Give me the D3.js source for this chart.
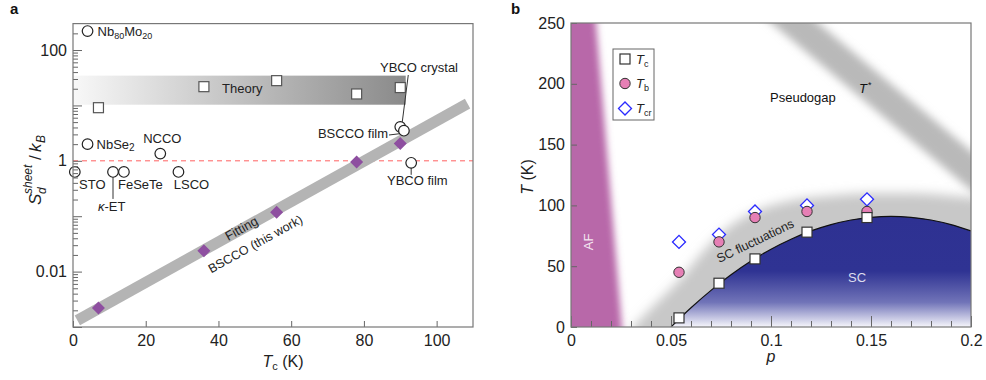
<!DOCTYPE html>
<html><head><meta charset="utf-8">
<script src="https://cdn.jsdelivr.net/npm/d3@7"></script>
<style>
body{margin:0;background:#fff}
svg{display:block;font-family:"Liberation Sans",Arial,sans-serif}
</style>
</head><body>
<svg id="c" width="986" height="380"></svg>
<script>
// ---------- Panel a data ----------
const matNames = ["Nb80Mo20","NbSe2","NCCO","STO","κ-ET","FeSeTe","LSCO","YBCO crystal","BSCCO film","YBCO film"];
const matTc    = [4, 4, 24, 0.5, 11, 14, 29, 90, 91, 93];
const matS     = [220, 2.0, 1.35, 0.63, 0.63, 0.63, 0.63, 4.1, 3.5, 0.92];
const theoryTc = [7, 36, 56, 78, 90];
const theoryS  = [9.1, 21.8, 28, 16.1, 21];
const theoryBandTc = [0, 91.5];
const theoryBandS  = [10.3, 34.5];
const bsccoTc  = [7, 36, 56, 78, 90];
const bsccoS   = [0.0022, 0.0237, 0.118, 0.95, 2.06];
const fitTc    = [1.2, 108.5];
const fitS     = [0.00132, 10.8];
const xTicksA  = [0, 20, 40, 60, 80, 100];
const yLabelValsA = [100, 1, 0.01];
const yLabelsA    = ["100", "1", "0.01"];

// ---------- Panel b data ----------
const dopP   = [0.054, 0.074, 0.092, 0.118, 0.148];
const TcB    = [7.5, 36, 56, 78, 90];
const TbB    = [45, 70, 90, 95, 95];
const TcrB   = [70, 76, 95, 100, 105];
const domeP  = [0.05,0.06,0.07,0.08,0.09,0.10,0.11,0.12,0.13,0.14,0.15,0.16,0.17,0.18,0.19,0.20];
const domeT  = [0,15.8,30.1,42.9,54.2,64.0,72.2,79.0,84.2,88.0,90.2,91,90.2,88.0,84.2,79.0];
const flucP  = [0.031,0.038,0.046,0.055,0.065,0.075,0.085,0.095,0.11,0.13,0.15,0.17,0.19,0.21];
const flucT  = [0,12,25,40,60,77,89,97,104,108,110,110,108,105];
const afP    = [-0.02, 0.012, 0.026, -0.02];
const afT    = [260, 260, -10, -10];
const tStarP = [0.10, 0.215];
const tStarT = [266.5, 108];
const xTicksB = [0, 0.05, 0.1, 0.15, 0.2];
const xLabelsB = ["0", "0.05", "0.1", "0.15", "0.2"];
const yTicksB = [0, 50, 100, 150, 200, 250];

const svg = d3.select("#c");
const defs = svg.append("defs");
const FS = 16;

function styleAxis(g){
  g.select(".domain").remove();
  g.selectAll(".tick line").attr("stroke","#666").attr("stroke-width",1);
  g.selectAll(".tick text").attr("font-size",FS).attr("fill","#222")
   .attr("font-family","'Liberation Sans',Arial,sans-serif");
}

// ================= PANEL A =================
const xA = d3.scaleLinear().domain([0,110]).range([73,473]);
const yA = d3.scaleLog().domain([0.001,300]).range([327,23.6]);
const gA = svg.append("g");

const tg = defs.append("linearGradient").attr("id","tg").attr("gradientUnits","userSpaceOnUse")
  .attr("x1",xA(theoryBandTc[0])).attr("x2",xA(theoryBandTc[1])).attr("y1",0).attr("y2",0);
tg.append("stop").attr("offset",0).attr("stop-color","#f8f8f8");
tg.append("stop").attr("offset",1).attr("stop-color","#8a8a8a");
gA.append("rect").attr("x",xA(theoryBandTc[0])).attr("width",xA(theoryBandTc[1])-xA(theoryBandTc[0]))
  .attr("y",yA(theoryBandS[1])).attr("height",yA(theoryBandS[0])-yA(theoryBandS[1])).attr("fill","url(#tg)");

// dashed y=1 line
gA.append("line").attr("x1",xA(0)).attr("x2",xA(110)).attr("y1",yA(1)).attr("y2",yA(1))
  .attr("stroke","#ff6060").attr("stroke-width",1).attr("stroke-dasharray","5,4");

// fit line
const fitPts = fitTc.map((t,i)=>[xA(t),yA(fitS[i])]);
gA.append("path").attr("d",d3.line()(fitPts)).attr("stroke","#b4b4b4").attr("stroke-width",11).attr("fill","none");
const ang = Math.atan2(fitPts[1][1]-fitPts[0][1], fitPts[1][0]-fitPts[0][0])*180/Math.PI;
function fitAt(t){
  const f=(t-fitTc[0])/(fitTc[1]-fitTc[0]);
  return Math.pow(10, Math.log10(fitS[0])+f*(Math.log10(fitS[1])-Math.log10(fitS[0])));
}
gA.append("text").attr("transform",`translate(${xA(46.4)},${yA(fitAt(46.4))}) rotate(${ang})`)
  .attr("text-anchor","middle").attr("dy","0.3em").attr("font-size",13).attr("fill","#222").text("Fitting");
gA.append("text").attr("transform",`translate(${xA(47.5)},${yA(fitAt(47.5))}) rotate(${ang})`)
  .attr("text-anchor","middle").attr("dy",24).attr("font-size",12.5).attr("fill","#222").text("BSCCO (this work)");

// theory squares
gA.selectAll("rect.th").data(theoryTc).join("rect").attr("class","th")
  .attr("x",(d)=>xA(d)-5).attr("y",(d,i)=>yA(theoryS[i])-5).attr("width",10).attr("height",10)
  .attr("fill","#fff").attr("stroke","#555").attr("stroke-width",1.2);
gA.append("text").attr("x",222).attr("y",yA(20)+4).attr("font-size",13).attr("fill","#222").text("Theory");

// leader lines
const mx = i=>xA(matTc[i]), my = i=>yA(matS[i]);
const lead = (x1,y1,x2,y2)=>gA.append("line").attr("x1",x1).attr("y1",y1).attr("x2",x2).attr("y2",y2).attr("stroke","#333").attr("stroke-width",1);
lead(mx(4),my(4)+5,mx(4),my(4)+27);
lead(mx(7)+8,75,mx(7)+2,my(7)-5);
lead(389,135,mx(8)-4,my(8)+3);
lead(mx(9),my(9)+5,mx(9),my(9)+12);

// BSCCO diamonds
gA.selectAll("rect.bs").data(bsccoTc).join("rect").attr("class","bs")
  .attr("x",-4.6).attr("y",-4.6).attr("width",9.2).attr("height",9.2)
  .attr("transform",(d,i)=>`translate(${xA(d)},${yA(bsccoS[i])}) rotate(45)`)
  .attr("fill","#8e4fa0");

// material circles
gA.selectAll("circle.m").data(matTc).join("circle").attr("class","m")
  .attr("cx",d=>xA(d)).attr("cy",(d,i)=>yA(matS[i])).attr("r",5.3)
  .attr("fill","#fff").attr("stroke","#222").attr("stroke-width",1.2);

// material labels
function lab(x,y,anchor){return gA.append("text").attr("x",x).attr("y",y).attr("font-size",13).attr("fill","#222").attr("text-anchor",anchor||"start");}
let t = lab(mx(0)+10,my(0)+5); t.append("tspan").text("Nb"); t.append("tspan").attr("font-size",9).attr("dy",3).text("80"); t.append("tspan").attr("dy",-3).text("Mo"); t.append("tspan").attr("font-size",9).attr("dy",3).text("20");
t = lab(mx(1)+9,my(1)+5); t.append("tspan").text("NbSe"); t.append("tspan").attr("font-size",10).attr("dy",2).text("2");
lab(mx(2)+2,143,"middle").text("NCCO");
lab(79,189).text("STO");
t = lab(mx(4)-15,211); t.append("tspan").attr("font-style","italic").text("κ"); t.append("tspan").text("-ET");
lab(118,189).text("FeSeTe");
lab(mx(6)+13,189,"middle").text("LSCO");
lab(380,72).text("YBCO crystal");
lab(388,138,"end").text("BSCCO film");
lab(387,185).text("YBCO film");

// axes a
const axXA = d3.axisBottom(xA).tickValues(xTicksA).tickSize(-6).tickPadding(8).tickFormat(d3.format("d"));
gA.append("g").attr("transform","translate(0,327)").call(axXA).call(styleAxis);
const minorA=[]; [0.001,0.01,0.1,1,10,100].forEach(d=>{for(let k=2;k<=9;k++){if(d*k<300)minorA.push(d*k);}});
gA.append("g").attr("transform",`translate(${xA(0)},0)`).call(d3.axisLeft(yA).tickValues(minorA).tickSize(-5).tickFormat("")).call(styleAxis);
gA.append("g").attr("transform",`translate(${xA(0)},0)`).call(d3.axisLeft(yA).tickValues([0.001,0.01,0.1,1,10,100]).tickSize(-9).tickFormat("")).call(styleAxis);
gA.append("g").attr("transform",`translate(${xA(0)},0)`).call(d3.axisLeft(yA).tickValues(yLabelValsA).tickSize(0).tickPadding(6).tickFormat((d,i)=>yLabelsA[i])).call(styleAxis);
gA.append("rect").attr("x",xA(0)).attr("y",yA(300)).attr("width",xA(110)-xA(0)).attr("height",yA(0.001)-yA(300))
  .attr("fill","none").attr("stroke","#777").attr("stroke-width",1.2);

// axis titles a
t = gA.append("text").attr("x",283).attr("y",367).attr("text-anchor","middle").attr("font-size",FS).attr("fill","#222");
t.append("tspan").attr("font-style","italic").text("T"); t.append("tspan").attr("font-size",11).attr("dy",3).text("c"); t.append("tspan").attr("dy",-3).text(" (K)");
const yl = gA.append("g").attr("transform","translate(41,169) rotate(-90)");
yl.append("text").attr("x",-36).attr("font-size",17).attr("font-style","italic").attr("fill","#222").text("S");
yl.append("text").attr("x",-25).attr("y",5).attr("font-size",12).attr("font-style","italic").attr("fill","#222").text("d");
yl.append("text").attr("x",-25).attr("y",-9).attr("font-size",12).attr("font-style","italic").attr("fill","#222").text("sheet");
yl.append("text").attr("x",9).attr("font-size",17).attr("fill","#222").text("/");
yl.append("text").attr("x",17).attr("font-size",17).attr("font-style","italic").attr("fill","#222").text("k");
yl.append("text").attr("x",26).attr("y",4).attr("font-size",12).attr("font-style","italic").attr("fill","#222").text("B");

svg.append("text").attr("x",10).attr("y",14).attr("font-size",15).attr("font-weight","bold").attr("fill","#111").text("a");

// ================= PANEL B =================
const xB = d3.scaleLinear().domain([0,0.2]).range([571,971]);
const yB = d3.scaleLinear().domain([0,250]).range([327,23]);
const gB = svg.append("g");
defs.append("clipPath").attr("id","clipB").append("rect").attr("x",xB(0)).attr("y",yB(250)).attr("width",xB(0.2)-xB(0)).attr("height",yB(0)-yB(250));
const f1 = defs.append("filter").attr("id","blurAF").attr("x","-20%").attr("y","-20%").attr("width","140%").attr("height","140%");
f1.append("feGaussianBlur").attr("stdDeviation",3.8);
const f2 = defs.append("filter").attr("id","blurFl").attr("x","-20%").attr("y","-20%").attr("width","140%").attr("height","140%");
f2.append("feGaussianBlur").attr("stdDeviation",5.5);
const f3 = defs.append("filter").attr("id","blurTs").attr("x","-20%").attr("y","-20%").attr("width","140%").attr("height","140%");
f3.append("feGaussianBlur").attr("stdDeviation",4);

const clipG = gB.append("g").attr("clip-path","url(#clipB)");
clipG.append("path").attr("d",d3.line()(afP.map((p,i)=>[xB(p),yB(afT[i])]))+"Z")
  .attr("fill","#b868a9").attr("filter","url(#blurAF)");
const flArea = d3.area().x((d,i)=>xB(flucP[i])).y0(yB(-12)).y1((d,i)=>yB(flucT[i])).curve(d3.curveMonotoneX);
clipG.append("path").attr("d",flArea(flucP)).attr("fill","#c8c8c8").attr("filter","url(#blurFl)");
clipG.append("path").attr("d",d3.line()(tStarP.map((p,i)=>[xB(p),yB(tStarT[i])])))
  .attr("stroke","#b9b9b9").attr("stroke-width",30).attr("fill","none").attr("filter","url(#blurTs)");
const bg = defs.append("linearGradient").attr("id","scg").attr("gradientUnits","userSpaceOnUse")
  .attr("x1",0).attr("x2",0).attr("y1",yB(92)).attr("y2",yB(0));
bg.append("stop").attr("offset",0).attr("stop-color","#2e3192");
bg.append("stop").attr("offset",0.5).attr("stop-color","#2f3393");
bg.append("stop").attr("offset",0.78).attr("stop-color","#7174b8");
bg.append("stop").attr("offset",1).attr("stop-color","#f6f6fb");
const domeArea = d3.area().x((d,i)=>xB(domeP[i])).y0(yB(0)).y1((d,i)=>yB(domeT[i])).curve(d3.curveMonotoneX);
clipG.append("path").attr("d",domeArea(domeP)).attr("fill","url(#scg)");
const domeLine = d3.line().x((d,i)=>xB(domeP[i])).y((d,i)=>yB(domeT[i])).curve(d3.curveMonotoneX);
clipG.append("path").attr("d",domeLine(domeP)).attr("fill","none").attr("stroke","#111").attr("stroke-width",1.2);

gB.append("text").attr("transform",`translate(${xB(0.0085)+5},${yB(70)}) rotate(-90)`).attr("text-anchor","middle")
  .attr("font-size",13).attr("fill","#f4e6f1").text("AF");
gB.append("text").attr("x",xB(0.143)).attr("y",yB(37)).attr("text-anchor","middle").attr("font-size",13).attr("fill","#dde").text("SC");
gB.append("text").attr("x",770).attr("y",102).attr("font-size",13).attr("fill","#111").text("Pseudogap");
t = gB.append("text").attr("x",859).attr("y",93).attr("font-size",13).attr("fill","#111");
t.append("tspan").attr("font-style","italic").text("T"); t.append("tspan").attr("font-size",9).attr("dx",1).attr("dy",-5).text("*");
gB.append("text").attr("transform",`translate(757,${yB(70)+3}) rotate(-25.7)`).attr("text-anchor","middle")
  .attr("font-size",12.5).attr("fill","#222").text("SC fluctuations");

gB.selectAll("rect.tcr").data(dopP).join("rect").attr("class","tcr")
  .attr("x",-4.6).attr("y",-4.6).attr("width",9.2).attr("height",9.2)
  .attr("transform",(d,i)=>`translate(${xB(d)},${yB(TcrB[i])}) rotate(45)`)
  .attr("fill","#fff").attr("stroke","#2a2aff").attr("stroke-width",1.3);
gB.selectAll("circle.tb").data(dopP).join("circle").attr("class","tb")
  .attr("cx",d=>xB(d)).attr("cy",(d,i)=>yB(TbB[i])).attr("r",5.2)
  .attr("fill","#e67fb5").attr("stroke","#333").attr("stroke-width",1);
gB.selectAll("rect.tc").data(dopP).join("rect").attr("class","tc")
  .attr("x",d=>xB(d)-5).attr("y",(d,i)=>yB(TcB[i])-5).attr("width",10).attr("height",10)
  .attr("fill","#fff").attr("stroke","#333").attr("stroke-width",1.2);

const lg = gB.append("g");
lg.append("rect").attr("x",613).attr("y",49).attr("width",41).attr("height",71).attr("fill","#fff").attr("stroke","#666").attr("stroke-width",1);
lg.append("rect").attr("x",620).attr("y",54).attr("width",10).attr("height",10).attr("fill","#fff").attr("stroke","#333").attr("stroke-width",1.2);
lg.append("circle").attr("cx",625).attr("cy",83.5).attr("r",5.2).attr("fill","#e67fb5").attr("stroke","#333");
lg.append("rect").attr("x",-4.6).attr("y",-4.6).attr("width",9.2).attr("height",9.2).attr("transform","translate(625,108.5) rotate(45)")
  .attr("fill","#fff").attr("stroke","#2a2aff").attr("stroke-width",1.3);
[["c",63.5],["b",88],["cr",113]].forEach(([s,y])=>{
  const tt = lg.append("text").attr("x",636).attr("y",y).attr("font-size",13).attr("fill","#222");
  tt.append("tspan").attr("font-style","italic").text("T");
  tt.append("tspan").attr("font-size",9).attr("dy",3).text(s);
});

gB.append("g").attr("transform","translate(0,327)").call(d3.axisBottom(xB).tickValues(d3.range(1,20).map(k=>k/100)).tickSize(-6).tickFormat("")).call(styleAxis);
gB.append("g").attr("transform","translate(0,327)").call(d3.axisBottom(xB).tickValues(xTicksB).tickSize(-11).tickPadding(8).tickFormat((d,i)=>xLabelsB[i])).call(styleAxis);
gB.append("g").attr("transform",`translate(${xB(0)},0)`).call(d3.axisLeft(yB).tickValues(yTicksB).tickSize(-6).tickPadding(6).tickFormat(d3.format("d"))).call(styleAxis);
gB.append("rect").attr("x",xB(0)).attr("y",yB(250)).attr("width",xB(0.2)-xB(0)).attr("height",yB(0)-yB(250))
  .attr("fill","none").attr("stroke","#777").attr("stroke-width",1.2);

gB.append("text").attr("x",771).attr("y",362).attr("text-anchor","middle").attr("font-size",FS).attr("font-style","italic").attr("fill","#222").text("p");
t = gB.append("text").attr("transform","translate(533,177) rotate(-90)").attr("text-anchor","middle").attr("font-size",FS).attr("fill","#222");
t.append("tspan").attr("font-style","italic").text("T"); t.append("tspan").text(" (K)");

svg.append("text").attr("x",511).attr("y",14).attr("font-size",15).attr("font-weight","bold").attr("fill","#111").text("b");
</script>
</body></html>
